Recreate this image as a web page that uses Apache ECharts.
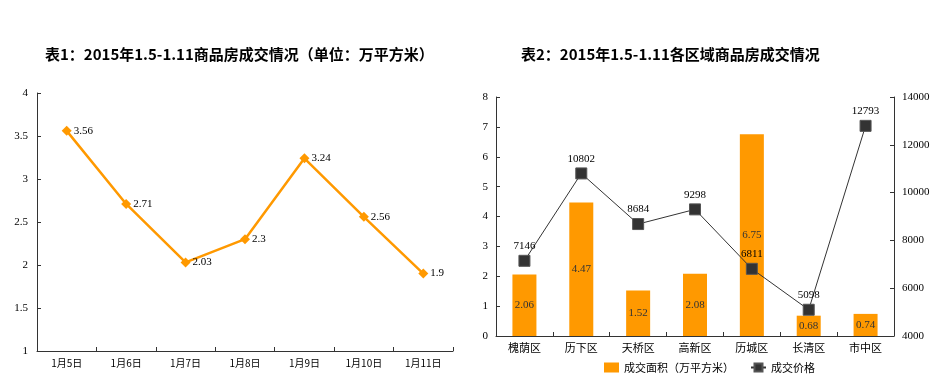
<!DOCTYPE html>
<html><head><meta charset="utf-8">
<script src="https://cdn.jsdelivr.net/npm/echarts@6/dist/echarts.min.js"></script>
<style>html,body{margin:0;padding:0;background:#fff}#c{width:949px;height:388px}</style>
</head><body><div id="c"></div>
<script>
const dates = ['1月5日','1月6日','1月7日','1月8日','1月9日','1月10日','1月11日'];
const dailyArea = [3.56, 2.71, 2.03, 2.3, 3.24, 2.56, 1.9];
const districts = ['槐荫区','历下区','天桥区','高新区','历城区','长清区','市中区'];
const districtArea = [2.06, 4.47, 1.52, 2.08, 6.75, 0.68, 0.74];
const districtPrice = [7146, 10802, 8684, 9298, 6811, 5098, 12793];
const title1 = '表1：2015年1.5-1.11商品房成交情况（单位：万平方米）';
const title2 = '表2：2015年1.5-1.11各区域商品房成交情况';

const numFont = 'Liberation Serif';
const cjk = 'Noto Sans CJK SC';
const orange = '#FF9900';
const axisLine = {show: true, lineStyle: {color: '#333', width: 1}};
const axisTick = {show: true, inside: true, length: 4, lineStyle: {color: '#333'}};

const chart = echarts.init(document.getElementById('c'));
chart.setOption({
  animation: false,
  title: [
    {text: title1, left: 40, top: 42, textStyle: {fontFamily: cjk, fontSize: 15, fontWeight: 'bold', color: '#000'}},
    {text: title2, left: 516, top: 42, textStyle: {fontFamily: cjk, fontSize: 15, fontWeight: 'bold', color: '#000'}}
  ],
  legend: {
    left: 599, top: 357, itemWidth: 15, itemHeight: 10, itemGap: 16,
    textStyle: {fontFamily: cjk, fontSize: 11, color: '#000'},
    data: [{name: '成交面积（万平方米）', icon: 'rect'}, {name: '成交价格'}]
  },
  grid: [
    {left: 37, right: 496, top: 93, bottom: 37},
    {left: 496, right: 55, top: 97, bottom: 52}
  ],
  xAxis: [
    {type: 'category', gridIndex: 0, data: dates, boundaryGap: true, axisLine, axisTick,
     axisLabel: {fontFamily: cjk, fontSize: 10, color: '#000', margin: 7}},
    {type: 'category', gridIndex: 1, data: districts, boundaryGap: true, axisLine, axisTick,
     axisLabel: {fontFamily: cjk, fontSize: 11, color: '#000', margin: 6}}
  ],
  yAxis: [
    {type: 'value', gridIndex: 0, min: 1, max: 4, interval: 0.5, axisLine, axisTick, splitLine: {show: false},
     axisLabel: {fontFamily: numFont, fontSize: 11, color: '#000', margin: 9}},
    {type: 'value', gridIndex: 1, min: 0, max: 8, interval: 1, axisLine, axisTick, splitLine: {show: false},
     axisLabel: {fontFamily: numFont, fontSize: 11, color: '#000', margin: 8}},
    {type: 'value', gridIndex: 1, position: 'right', min: 4000, max: 14000, interval: 2000, axisLine, axisTick, splitLine: {show: false},
     axisLabel: {fontFamily: numFont, fontSize: 11, color: '#000', margin: 8, formatter: v => String(v)}}
  ],
  series: [
    {type: 'line', xAxisIndex: 0, yAxisIndex: 0, data: dailyArea,
     lineStyle: {color: orange, width: 2.5}, itemStyle: {color: orange},
     symbol: 'diamond', symbolSize: 10,
     label: {show: true, position: 'right', distance: 2, fontFamily: numFont, fontSize: 11, color: '#000'}},
    {type: 'bar', name: '成交面积（万平方米）', xAxisIndex: 1, yAxisIndex: 1, data: districtArea, barWidth: 24,
     itemStyle: {color: orange},
     label: {show: true, position: 'inside', fontFamily: numFont, fontSize: 11, color: '#333'}},
    {type: 'line', name: '成交价格', xAxisIndex: 1, yAxisIndex: 2, data: districtPrice,
     lineStyle: {color: '#333', width: 1}, itemStyle: {color: '#333', borderColor: '#555', borderWidth: 1},
     symbol: 'rect', symbolSize: 11,
     label: {show: true, position: 'top', distance: 3, fontFamily: numFont, fontSize: 11, color: '#000'}}
  ]
});
</script></body></html>
